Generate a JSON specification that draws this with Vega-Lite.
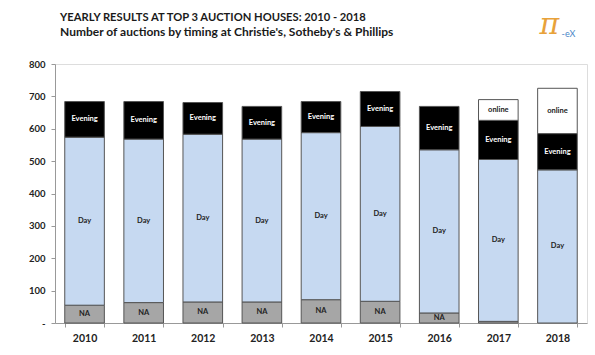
{
  "$schema": "https://vega.github.io/schema/vega-lite/v6.json",
  "width": 532,
  "height": 259,
  "autosize": "none",
  "padding": {"left": 55, "top": 64, "right": 8, "bottom": 32},
  "background": "white",
  "title": {
    "text": "YEARLY RESULTS AT TOP 3 AUCTION HOUSES: 2010 - 2018",
    "subtitle": "Number of auctions by timing at Christie's, Sotheby's & Phillips",
    "anchor": "start",
    "frame": "group",
    "font": "Lato",
    "fontSize": 11.2,
    "fontWeight": "bold",
    "color": "#1a1a1a",
    "subtitleFont": "Lato",
    "subtitleFontSize": 12,
    "subtitleFontWeight": "bold",
    "subtitleColor": "#1a1a1a",
    "subtitlePadding": 4,
    "offset": 12,
    "dx": 5,
    "dy": 40
  },
  "config": {
    "axisY": {
      "title": null,
      "labelFont": "Lato",
      "labelFontSize": 9.5,
      "labelFontWeight": "bold",
      "labelColor": "#222",
      "labelPadding": 6,
      "tickSize": 4,
      "tickColor": "#999",
      "domainColor": "#999",
      "grid": false
    },
    "axisX": {
      "title": null,
      "labelAngle": 0,
      "labelFont": "Lato",
      "labelFontSize": 10.5,
      "labelFontWeight": "bold",
      "labelColor": "#222",
      "labelPadding": 6,
      "tickBand": "extent",
      "tickSize": 4,
      "tickColor": "#999",
      "domainColor": "#999",
      "grid": false
    }
  },
  "data": {
    "values": [
      {"year": "2010", "timing": "NA", "order": 1, "count": 55},
      {"year": "2010", "timing": "Day", "order": 2, "count": 519},
      {"year": "2010", "timing": "Evening", "order": 3, "count": 110},
      {"year": "2011", "timing": "NA", "order": 1, "count": 63},
      {"year": "2011", "timing": "Day", "order": 2, "count": 505},
      {"year": "2011", "timing": "Evening", "order": 3, "count": 116},
      {"year": "2012", "timing": "NA", "order": 1, "count": 65},
      {"year": "2012", "timing": "Day", "order": 2, "count": 518},
      {"year": "2012", "timing": "Evening", "order": 3, "count": 98},
      {"year": "2013", "timing": "NA", "order": 1, "count": 65},
      {"year": "2013", "timing": "Day", "order": 2, "count": 503},
      {"year": "2013", "timing": "Evening", "order": 3, "count": 101},
      {"year": "2014", "timing": "NA", "order": 1, "count": 72},
      {"year": "2014", "timing": "Day", "order": 2, "count": 516},
      {"year": "2014", "timing": "Evening", "order": 3, "count": 96},
      {"year": "2015", "timing": "NA", "order": 1, "count": 67},
      {"year": "2015", "timing": "Day", "order": 2, "count": 540},
      {"year": "2015", "timing": "Evening", "order": 3, "count": 108},
      {"year": "2016", "timing": "NA", "order": 1, "count": 31},
      {"year": "2016", "timing": "Day", "order": 2, "count": 504},
      {"year": "2016", "timing": "Evening", "order": 3, "count": 134},
      {"year": "2017", "timing": "NA", "order": 1, "count": 5},
      {"year": "2017", "timing": "Day", "order": 2, "count": 500},
      {"year": "2017", "timing": "Evening", "order": 3, "count": 121},
      {"year": "2017", "timing": "online", "order": 4, "count": 64},
      {"year": "2018", "timing": "Day", "order": 2, "count": 473},
      {"year": "2018", "timing": "Evening", "order": 3, "count": 112},
      {"year": "2018", "timing": "online", "order": 4, "count": 140}
    ]
  },
  "transform": [
    {"stack": "count", "groupby": ["year"], "sort": [{"field": "order"}], "as": ["y0", "y1"]},
    {"calculate": "(datum.y0 + datum.y1) / 2", "as": "mid"}
  ],
  "encoding": {
    "x": {
      "field": "year",
      "type": "ordinal",
      "scale": {"paddingInner": 0.33, "paddingOuter": 0.165}
    }
  },
  "layer": [
    {
      "mark": {"type": "bar", "stroke": "#555", "strokeWidth": 1},
      "encoding": {
        "y": {
          "field": "y0",
          "type": "quantitative",
          "scale": {"domain": [0, 800]},
          "axis": {"values": [0, 100, 200, 300, 400, 500, 600, 700, 800], "labelExpr": "datum.value == 0 ? '-' : datum.label"}
        },
        "y2": {"field": "y1"},
        "color": {
          "field": "timing",
          "type": "nominal",
          "scale": {"domain": ["NA", "Day", "Evening", "online"], "range": ["#a6a6a6", "#c6d9f1", "#000000", "#ffffff"]},
          "legend": null
        }
      }
    },
    {
      "transform": [{"filter": "datum.count > 10"}],
      "mark": {"type": "text", "font": "Lato", "fontSize": 7.5, "fontWeight": "bold", "baseline": "middle"},
      "encoding": {
        "y": {
          "field": "mid",
          "type": "quantitative",
          "scale": {"domain": [0, 800]},
          "axis": {"values": [0, 100, 200, 300, 400, 500, 600, 700, 800], "labelExpr": "datum.value == 0 ? '-' : datum.label"}
        },
        "text": {"field": "timing"},
        "fill": {"condition": {"test": "datum.timing == 'Evening'", "value": "#ffffff"}, "value": "#222222"}
      }
    },
    {
      "data": {"values": [{"logo": "π", "year": "2018", "pos": 920}]},
      "mark": {"type": "text", "font": "DejaVu Serif", "fontStyle": "italic", "fontSize": 30, "fill": "#e8a23a", "dx": -8, "baseline": "middle"},
      "encoding": {
        "x": {"field": "year", "type": "ordinal"},
        "y": {
          "field": "pos",
          "type": "quantitative",
          "scale": {"domain": [0, 800]},
          "axis": {"values": [0, 100, 200, 300, 400, 500, 600, 700, 800], "labelExpr": "datum.value == 0 ? '-' : datum.label"}
        },
        "text": {"field": "logo"}
      }
    },
    {
      "data": {"values": [{"logo": "-eX", "year": "2018", "pos": 893}]},
      "mark": {"type": "text", "font": "Lato", "fontSize": 9, "fill": "#4a86c8", "dx": 11, "baseline": "middle"},
      "encoding": {
        "x": {"field": "year", "type": "ordinal"},
        "y": {
          "field": "pos",
          "type": "quantitative",
          "scale": {"domain": [0, 800]},
          "axis": {"values": [0, 100, 200, 300, 400, 500, 600, 700, 800], "labelExpr": "datum.value == 0 ? '-' : datum.label"}
        },
        "text": {"field": "logo"}
      }
    }
  ]
}
